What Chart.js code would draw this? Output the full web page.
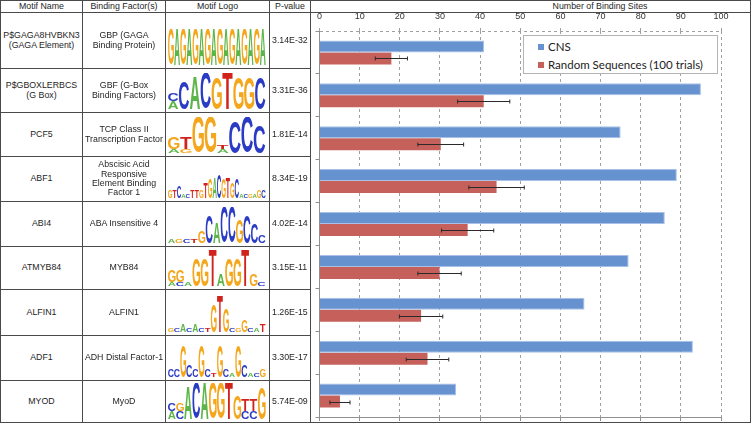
<!DOCTYPE html>
<html>
<head>
<meta charset="utf-8">
<script src="https://cdn.jsdelivr.net/npm/chart.js@4"></script>
<style>
body { margin: 0; background: #fff; font-family: Arial, "Liberation Sans", Helvetica, sans-serif; color: #1e1e1e; }
#wrap { position: relative; width: 751px; height: 424px; overflow: hidden; }
.ln { position: absolute; background: #4a4a4a; }
.cell { position: absolute; display: flex; align-items: center; justify-content: center; text-align: center; font-size: 8.8px; line-height: 9.3px; white-space: nowrap; }
.pval { justify-content: flex-start; padding-left: 2px; }
.logo { position: absolute; }
#chartBox { position: absolute; left: 311px; top: 13px; width: 439px; height: 408px; }
#legend { position: absolute; left: 523px; top: 35px; width: 193px; height: 37px; border: 1px solid #b4b4b4; background: #fff; font-family: Lato, sans-serif; font-size: 11.5px; color: #222; }
#legend .item { position: absolute; left: 14px; display: flex; align-items: center; }
#legend .sw { width: 6px; height: 6px; margin-right: 4px; }
</style>
</head>
<body>
<div id="wrap">
  <div id="chartBox"><canvas id="myChart"></canvas></div>
  <div id="legend"></div>
</div>
<script>
// table data
const motifs = ['P$GAGA8HVBKN3<br>(GAGA Element)', 'P$GBOXLERBCS<br>(G Box)', 'PCF5', 'ABF1', 'ABI4', 'ATMYB84', 'ALFIN1', 'ADF1', 'MYOD'];
const factors = ['GBP (GAGA<br>Binding Protein)', 'GBF (G-Box<br>Binding Factors)', 'TCP Class II<br>Transcription Factor',
  'Abscisic Acid<br>Responsive<br>Element Binding<br>Factor 1', 'ABA Insensitive 4', 'MYB84', 'ALFIN1', 'ADH Distal Factor-1', 'MyoD'];
const pValues = ['3.14E-32', '3.31E-36', '1.81E-14', '8.34E-19', '4.02E-14', '3.15E-11', '1.26E-15', '3.30E-17', '5.74E-09'];
// logo columns, letters bottom to top, digit = height in ninths
const logos = [
  'G9 A9 G9 A9 G9 A9 G9 A9 G9 A9 G9 A9 G9 A9 G9 A9',
  'A2C2 C7 A8 C9 G8 T9 G8 G8 C8',
  'A1G3 G1T3 G9 G9 A1T1 C8 C9 C7',
  'G2 T2 C3 A1 C1 T2 T2 G2 T4 G5 A5 C6 G5 T5 G4 C5 A1 C1 G1 A1 G2 C2',
  'A1 G1 C1 T1 G3 C7 A5 C9 C9 G6 C7 C5 C2',
  'A1G3 C1G3 A1 G7 G7 T9 A3 G7 G7 T9 G3 C1',
  'G1 C1 A2 C1 A2 C1 T1 G7 T9 G6 C1 G1 G3 C1 A1 T2',
  'C2 C2 G8 C3 C2 G8 C2 T1 G8 C2 A1 G8 C3 A1 C1 G2',
  'A2C2 C2G2 A8 C9 A9 G9 G9 T9 G6 C2T3 C2T3 G8'
];

// chart data
const categories = ['P$GAGA8HVBKN3', 'P$GBOXLERBCS', 'PCF5', 'ABF1', 'ABI4', 'ATMYB84', 'ALFIN1', 'ADF1', 'MYOD'];
const cnsSites = [41, 95, 75, 89, 86, 77, 66, 93, 34];
const randomSites = [17.9, 40.9, 30.2, 44.1, 36.9, 29.9, 25.3, 26.9, 5.1];
const randomErr = [4, 6.5, 5.7, 6.9, 6.5, 5.4, 5.4, 5.3, 2.5];

// layout of the table grid
const colX = [0, 82, 165, 269, 310, 750];
const rowY = [0, 12, 68, 112, 156, 201, 246, 289, 335, 380, 422];

const wrap = document.getElementById('wrap');
function line(x, y, w, h) {
    const d = document.createElement('div');
    d.className = 'ln';
    d.style.cssText = `left:${x}px;top:${y}px;width:${w}px;height:${h}px`;
    wrap.appendChild(d);
}
function cell(x, y, w, h, html, cls) {
    const d = document.createElement('div');
    d.className = 'cell' + (cls ? ' ' + cls : '');
    d.style.cssText = `left:${x}px;top:${y}px;width:${w}px;height:${h}px`;
    d.innerHTML = html;
    wrap.appendChild(d);
}

line(0, 0, 751, 1);
line(0, rowY[1], 751, 1);
for (let r = 2; r < rowY.length - 1; r++) line(0, rowY[r], colX[4], 1);
line(0, rowY[rowY.length - 1], 751, 1);
colX.forEach(x => line(x, 0, 1, rowY[rowY.length - 1] + 1));

const heads = ['Motif Name', 'Binding Factor(s)', 'Motif Logo', 'P-value'];
heads.forEach((t, c) => cell(colX[c] + 1, 1, colX[c + 1] - colX[c] - 1, 11, t));
cell(310 + 140, 1, 300, 11, 'Number of Binding Sites');

const logoColors = { A: '#5cb548', C: '#2b3cc4', G: '#f4a71c', T: '#d1221c' };
function drawLogo(cv, spec) {
    const c = cv.getContext('2d');
    const cols = spec.split(' ');
    const w = cv.width / cols.length, H = cv.height;
    c.font = 'bold 100px "Liberation Sans"';
    cols.forEach((col, i) => {
        let y = H;
        for (const m of col.matchAll(/([ACGT])(\d)/g)) {
            const h = H * Number(m[2]) / 9;
            const tm = c.measureText(m[1]);
            const gw = tm.actualBoundingBoxLeft + tm.actualBoundingBoxRight;
            const gh = tm.actualBoundingBoxAscent + tm.actualBoundingBoxDescent;
            c.save();
            c.translate(i * w, y);
            c.scale(w * 0.94 / gw, h / gh);
            c.fillStyle = logoColors[m[1]];
            c.fillText(m[1], tm.actualBoundingBoxLeft, -tm.actualBoundingBoxDescent);
            c.restore();
            y -= h;
        }
    });
}

for (let r = 0; r < motifs.length; r++) {
    const y0 = rowY[r + 1] + 1, h = rowY[r + 2] - rowY[r + 1] - 1;
    cell(colX[0] + 1, y0, colX[1] - colX[0] - 1, h, motifs[r]);
    cell(colX[1] + 1, y0, colX[2] - colX[1] - 1, h, factors[r]);
    cell(colX[3] + 1, y0, colX[4] - colX[3] - 1, h, pValues[r], 'pval');
    const cv = document.createElement('canvas');
    cv.className = 'logo';
    cv.width = 98; cv.height = 36;
    cv.style.left = '168px';
    cv.style.top = (rowY[r + 2] - 39) + 'px';
    wrap.appendChild(cv);
    drawLogo(cv, logos[r]);
}

// error bars drawn through the x scale
const errorBars = {
    id: 'errorBars',
    afterDatasetsDraw(chart) {
        const meta = chart.getDatasetMeta(1);
        const xs = chart.scales.x;
        const c = chart.ctx;
        c.save();
        c.strokeStyle = '#2a2a2a';
        c.lineWidth = 1;
        meta.data.forEach((bar, i) => {
            const lo = xs.getPixelForValue(randomSites[i] - randomErr[i]);
            const hi = xs.getPixelForValue(randomSites[i] + randomErr[i]);
            const y = Math.round(bar.y) + 0.5;
            c.beginPath();
            c.moveTo(lo, y); c.lineTo(hi, y);
            c.moveTo(lo, y - 2); c.lineTo(lo, y + 2);
            c.moveTo(hi, y - 2); c.lineTo(hi, y + 2);
            c.stroke();
        });
        c.restore();
    }
};

const ctx = document.getElementById('myChart').getContext('2d');

config = {
    type: 'bar',
    data: {
        labels: categories,
        datasets: [{
            label: 'CNS',
            data: cnsSites,
            backgroundColor: '#6692cf',
            borderColor: '#a9c1e6',
            borderWidth: 1,
            borderSkipped: 'left'
        }, {
            label: 'Random Sequences (100 trials)',
            data: randomSites,
            backgroundColor: '#c6605a'
        }]
    },
    options: {
        indexAxis: 'y',
        responsive: true,
        maintainAspectRatio: false,
        animation: false,
        datasets: { bar: { categoryPercentage: 0.56, barPercentage: 1 } },
        layout: { padding: { right: 29 } },
        plugins: { legend: { display: false }, tooltip: { enabled: false } },
        scales: {
            x: {
                position: 'top', min: 0, max: 100,
                ticks: { stepSize: 10, color: '#333', padding: 6, font: { size: 9, family: 'Arial, "Liberation Sans"' } },
                grid: { color: '#a0a0a0', tickLength: 3 },
                border: { display: false, dash: [3, 3] },
                afterFit(s) { s.height = 18; }
            },
            x2: {
                type: 'linear', position: 'bottom', min: 0, max: 100,
                ticks: { stepSize: 10, display: false },
                grid: { drawOnChartArea: false, tickLength: 4, color: '#909090' },
                border: { color: '#909090' },
                afterFit(s) { s.height = 4; }
            },
            y: {
                ticks: { display: false },
                grid: {
                    color: c => c.index === 0 ? '#a0a0a0' : 'rgba(0,0,0,0)',
                    tickColor: '#909090',
                    tickLength: 4
                },
                border: { color: '#909090', dash: [3, 3] },
                afterFit(s) { s.width = 4; }
            }
        }
    },
    plugins: [errorBars]
};

const myChart = new Chart(ctx, config);

const legend = document.getElementById('legend');
config.data.datasets.forEach((ds, i) => {
    const it = document.createElement('div');
    it.className = 'item';
    it.style.top = (i === 0 ? 4 : 22) + 'px';
    it.innerHTML = `<span class="sw" style="background:${ds.backgroundColor}"></span><span>${ds.label}</span>`;
    legend.appendChild(it);
});
</script>
</body>
</html>
